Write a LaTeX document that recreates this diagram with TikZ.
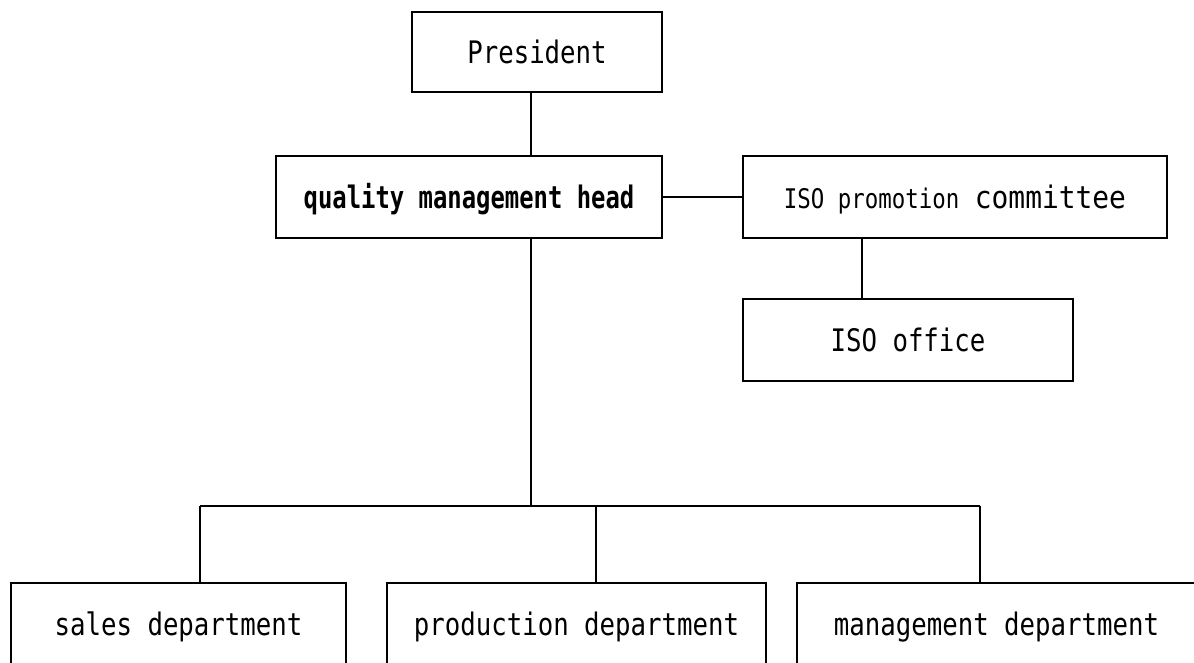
\documentclass[tikz,border=0pt]{standalone}
\usepackage{fontspec}
\newfontfamily\goth[FakeStretch=0.83]{DejaVu Sans Mono}
\newfontfamily\gothb[FakeStretch=0.77]{DejaVu Sans Mono}
\newfontfamily\gothw[FakeStretch=0.9]{DejaVu Sans Mono}
\begin{document}
\begin{tikzpicture}[x=1pt,y=-1pt,
  orgbox/.style={draw, line width=1.8pt, rectangle, inner sep=0pt,
    font=\goth\fontsize{31}{36}\selectfont, text height=23pt, text depth=0pt},
  link/.style={line width=1.3pt}]
\useasboundingbox (0,0) rectangle (1194,662);
\clip (0,0) rectangle (1194,662);
% boxes
\node[orgbox, minimum width=250pt, minimum height=80pt] (pres) at (537,52) {President};
\node[orgbox, minimum width=386pt, minimum height=82pt] (qmh) at (469,197) {\gothb\bfseries quality management head};
\node[orgbox, minimum width=424pt, minimum height=82pt] (isop) at (955,197) {{\fontsize{27}{30}\selectfont ISO promotion} {\gothw committee}};
\node[orgbox, minimum width=330pt, minimum height=82pt] (isoo) at (908,340) {ISO office};
\node[orgbox, minimum width=335pt, minimum height=81pt] (sales) at (178.5,623.5) {sales department};
\node[orgbox, minimum width=379pt, minimum height=81pt] (prod) at (576.5,623.5) {production department};
\node[orgbox, minimum width=399pt, minimum height=81pt] (mgmt) at (996.5,623.5) {management department};
% connector coordinates
\coordinate (trunk) at (531,506);
\coordinate (isodrop) at (862,300);
\coordinate (bl) at (200,506);
\coordinate (bm) at (596,506);
\coordinate (br) at (980,506);
% connectors
\draw[link] (pres.south -| trunk) -- (qmh.north -| trunk);
\draw[link] (qmh.east) -- (isop.west);
\draw[link] (isop.south -| isodrop) -- (isoo.north -| isodrop);
\draw[link] (qmh.south -| trunk) -- (trunk);
\draw[link] (bl) -- (br);
\draw[link] (bl) -- (bl |- sales.north);
\draw[link] (bm) -- (bm |- prod.north);
\draw[link] (br) -- (br |- mgmt.north);
\end{tikzpicture}
\end{document}
